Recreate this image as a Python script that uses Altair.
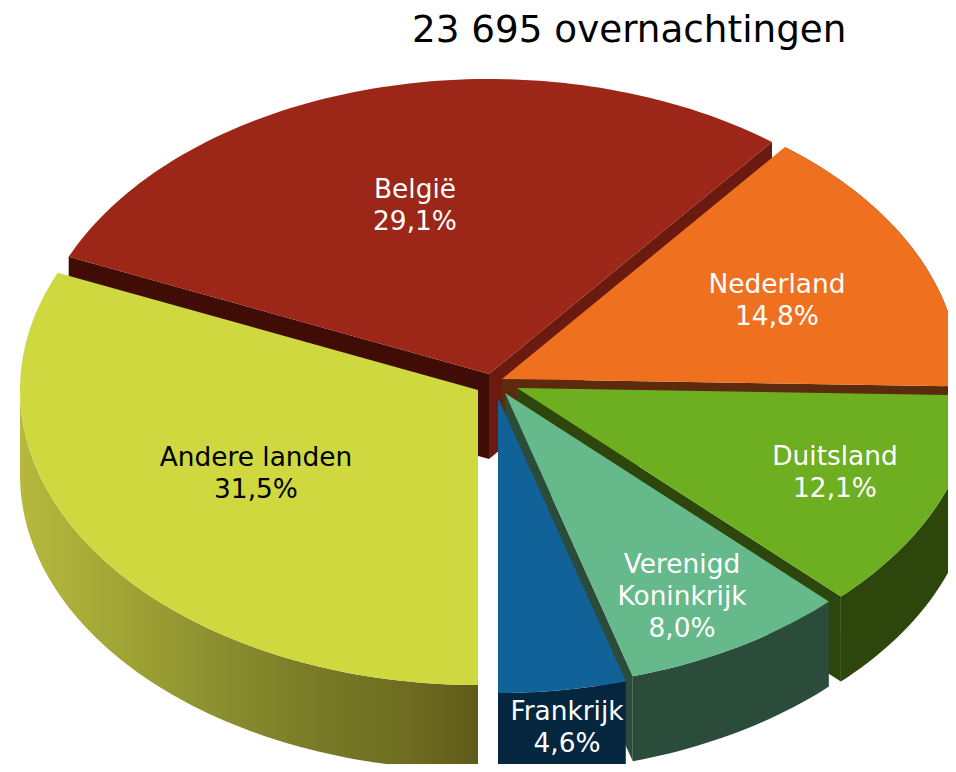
import math
import altair as alt

# ---- chart values -------------------------------------------------------
title = "23 695 overnachtingen"
names = ["België", "Andere landen", "Nederland", "Duitsland", "Verenigd\nKoninkrijk", "Frankrijk"]
shares = [29.1, 31.5, 14.8, 12.1, 8.0, 4.6]
fills = ["#9c2617", "#cfd93f", "#ef701e", "#6eaf21", "#66b98a", "#12629a"]
side_fills = ["#6b1a0f", None, "#5c2a0d", "#2c460b", "#2b4c3a", "#04263f"]
text_colors = ["white", "black", "white", "white", "white", "white"]

# ---- layout of the exploded, tilted pie ---------------------------------
RX, RY, DEPTH = 458, 295, 85
centres = {"België": (489, 374), "Andere landen": (478, 390), "Nederland": (502, 379),
           "Duitsland": (517, 388), "Verenigd\nKoninkrijk": (505, 393), "Frankrijk": (498, 398)}
# centre of each label's first line
label_pos = {"België": (415, 190), "Andere landen": (256, 458), "Nederland": (777, 285),
             "Duitsland": (835, 457), "Verenigd\nKoninkrijk": (682, 565), "Frankrijk": (567, 712)}
TOP_PAD = 50
SHIFT_X, SHIFT_Y = -8, -8 - TOP_PAD


def pt(c, pct, dz=0.0):
    t = math.radians(pct * 3.6)
    return [c[0] - RX * math.sin(t), c[1] + RY * math.cos(t) + dz]


def arc(c, p0, p1, dz=0.0):
    n = max(2, int(abs(p1 - p0) * 3))
    return [pt(c, p0 + (p1 - p0) * i / n, dz) for i in range(n + 1)]


def feature(ring, fill):
    ring = ring + [ring[0]]
    return {"type": "Feature", "properties": {"fill": fill},
            "geometry": {"type": "Polygon", "coordinates": [ring]}}


def wall(c, p):
    a, b = c, pt(c, p)
    return [list(a), list(b), [b[0], b[1] + DEPTH], [a[0], a[1] + DEPTH]]


# clockwise from the 6 o'clock position
order = ["Andere landen", "België", "Nederland", "Duitsland", "Verenigd\nKoninkrijk", "Frankrijk"]
share_of = dict(zip(names, shares))
fill_of = dict(zip(names, fills))
side_of = dict(zip(names, side_fills))
span = {}
acc = 0.0
for n in order:
    span[n] = (acc, acc + share_of[n])
    acc += share_of[n]
span["Frankrijk"] = (span["Frankrijk"][0], 100.0)

features = []
# België: two inner walls, then its top
c = centres["België"]
p0, p1 = span["België"]
features.append(feature(wall(c, p0), "#3f0d06"))
features.append(feature(wall(c, p1), side_of["België"]))
features.append(feature([list(c)] + arc(c, p0, p1), fill_of["België"]))
for n in ["Nederland", "Duitsland", "Verenigd\nKoninkrijk", "Frankrijk"]:
    c = centres[n]
    p0, p1 = span[n]
    if n != "Frankrijk":
        features.append(feature(wall(c, p1), side_of[n]))
    features.append(feature(arc(c, p0, p1) + arc(c, p1, p0, DEPTH), side_of[n]))
    features.append(feature([list(c)] + arc(c, p0, p1), fill_of[n]))

c = centres["Andere landen"]
p0, p1 = span["Andere landen"]
yellow_side = [feature(arc(c, 0, 25) + arc(c, 25, 0, DEPTH), "none")]
yellow_top = [feature([list(c)] + arc(c, p0, p1), fill_of["Andere landen"])]

labels = []
for n, s, col in zip(names, shares, text_colors):
    x, y = label_pos[n]
    labels.append({"lon": x, "lat": y, "color": col,
                   "label": n + "\n" + f"{s:.1f}%".replace(".", ",")})

proj = alt.Projection(type="identity", scale=1, translate=[SHIFT_X, SHIFT_Y]).to_dict()

slices = alt.Chart(alt.Data(values=features)).mark_geoshape(clip=True).encode(
    fill=alt.Fill("properties.fill:N", scale=None)
).project(**proj)

side = alt.Chart(alt.Data(values=yellow_side)).mark_geoshape(
    clip=True,
    fill=alt.LinearGradient(
        gradient="linear", x1=0, x2=1, y1=0, y2=0,
        stops=[alt.GradientStop(offset=0, color="#b6b93d"),
               alt.GradientStop(offset=0.27, color="#9ca033"),
               alt.GradientStop(offset=0.42, color="#8d9030"),
               alt.GradientStop(offset=0.63, color="#7a7c27"),
               alt.GradientStop(offset=0.85, color="#6d6c20"),
               alt.GradientStop(offset=1, color="#5e5b1a")],
    ),
).project(**proj)

top = alt.Chart(alt.Data(values=yellow_top)).mark_geoshape(clip=True, fill=fill_of["Andere landen"]).project(**proj)

text = alt.Chart(alt.Data(values=labels)).mark_text(
    font="DejaVu Sans", fontSize=26.4, lineBreak="\n", lineHeight=32, align="center", baseline="middle"
).encode(
    longitude="lon:Q", latitude="lat:Q", text="label:N", color=alt.Color("color:N", scale=None)
).project(**proj)

chart = alt.layer(slices, side, top, text).properties(
    width=940, height=756, padding={"top": 3, "left": 0, "right": 0, "bottom": 0},
    autosize=alt.AutoSizeParams(type="fit", contains="padding"),
    title=alt.TitleParams(title, font="DejaVu Sans", fontSize=37.3, fontWeight="normal", color="black",
                          anchor="start", dx=404, offset=8),
).configure_view(stroke=None)

chart.save("out.html", embed_options={"renderer": "svg", "actions": False})
